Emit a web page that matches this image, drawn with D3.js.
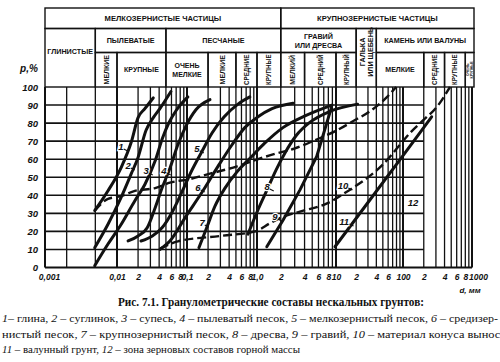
<!DOCTYPE html>
<html>
<head>
<meta charset="utf-8">
<script src="https://cdn.jsdelivr.net/npm/d3@7"></script>
<style>
  html, body { margin: 0; padding: 0; background: #fff; }
  svg { display: block; }
  .hdr text { font-family: "Liberation Sans", Arial, sans-serif; font-weight: bold; fill: #111; }
  .num { font-family: "Liberation Sans", Arial, sans-serif; font-style: italic; font-weight: bold; fill: #111; }
  .cap { font-family: "Liberation Serif", "Times New Roman", serif; fill: #111; }
</style>
</head>
<body>
<script>
// Grain-size distribution curves: particle diameter d (mm) vs cumulative content p (%)
const curve1 = [[0.0049,31.5],[0.0075,42.5],[0.0115,55.5],[0.016,69.5],[0.02,83],[0.025,88],[0.033,94]];
const curve2 = [[0.0049,11],[0.0075,24],[0.0115,39],[0.016,52],[0.02,61],[0.026,76],[0.033,83],[0.041,88],[0.059,97.5]];
const curve3 = [[0.0049,1],[0.0075,13],[0.0115,24],[0.018,37],[0.025,46],[0.035,59],[0.045,72],[0.054,79.5],[0.07,87],[0.103,94.5]];
const curve4 = [[0.0144,14.7],[0.02,17.5],[0.027,22],[0.035,33],[0.044,44],[0.057,55],[0.074,68],[0.097,78.5],[0.135,87.5],[0.213,93]];
const curve5 = [[0.022,14.7],[0.032,17.5],[0.044,22],[0.061,30.5],[0.085,42],[0.118,54],[0.162,64],[0.228,74.5],[0.34,83.5],[0.535,90.5],[0.79,94.5]];
const curve6 = [[0.041,10],[0.057,14.7],[0.097,28.5],[0.169,42.5],[0.277,56],[0.44,68],[0.67,77.5],[1.03,83.5],[1.55,88],[2.86,91]];
const curve7 = [[0.148,11],[0.191,22],[0.251,34],[0.349,44],[0.518,53],[0.794,60.5],[1.26,69],[2.13,77.5],[4.05,84],[8.9,90]];
const curve8 = [[0.743,18.5],[1.03,32],[1.34,43],[1.74,54],[2.26,63.5],[3.12,73],[4.7,80.5],[8.4,86.5],[21,90.5]];
const curve9 = [[1.33,11.5],[2.15,26.5],[3.5,43],[5.7,61.5],[8.8,89]];
const curve11 = [[9.7,11.5],[30,36],[100,62],[260,83.5]];
const dashedUpper = [[0.0049,31.5],[0.0075,38],[0.0114,39.5],[0.018,42.5],[0.035,44],[0.057,47],[0.11,49],[0.213,52],[0.518,56],[0.94,59.5],[1.69,63],[3.03,66],[5.4,70.5],[10.3,76],[17.9,81],[32,86.5],[58,94.5],[79,100]];
const dashedLower = [[0.041,10.5],[0.074,14.5],[0.3,17.5],[0.94,20],[1.46,24.5],[2.1,28],[3.5,31],[7.7,35.5],[16,43],[29,49.5],[50,57],[90,68],[126,74.5],[195,81.5],[310,89],[480,100]];

// Curve numbers and where they sit (d, p)
const curveLabels = [
  ["1",0.0114,66.8],["2",0.0144,56.2],["3",0.026,53.5],["4",0.0469,53.5],
  ["5",0.139,65.7],["6",0.1436,44],["7",0.164,24.7],["8",1.34,44.6],
  ["9",1.69,28],["10",12.7,45.2],["11",13.2,25.2],["12",139.6,35.7]
];

// Axis ticks
const decades = [0.001,0.01,0.1,1,10,100,1000];
const xTickValues = [0.001,0.01,0.02,0.04,0.06,0.08,0.1,0.2,0.4,0.6,0.8,1,2,4,6,8,10,20,40,60,100,200,400,600,800,1000];
const xTickText = ["0,001","0,01","2","4","6","8","0,1","2","4","6","8","1,0","2","4","6","8","10","2","4","6","100","2","4","6","8","1000"];
const yTickValues = [0,10,20,30,40,50,60,70,80,90,100];

// Fraction classes shown in the heading (boundaries in mm)
const headerRow1 = [
  {name:["МЕЛКОЗЕРНИСТЫЕ ЧАСТИЦЫ"], from:0.001, to:2},
  {name:["КРУПНОЗЕРНИСТЫЕ ЧАСТИЦЫ"], from:2, to:1000}
];
const headerRow2 = [
  {name:["ГЛИНИСТЫЕ"], from:0.001, to:0.005},
  {name:["ПЫЛЕВАТЫЕ"], from:0.005, to:0.05},
  {name:["ПЕСЧАНЫЕ"], from:0.05, to:2},
  {name:["ГРАВИЙ","ИЛИ ДРЕСВА"], from:2, to:20},
  {name:["ГАЛЬКА","ИЛИ ЩЕБЕНЬ"], from:20, to:40},
  {name:["КАМЕНЬ ИЛИ ВАЛУНЫ"], from:40, to:1000}
];
const headerRow3 = [
  {name:["МЕЛКИЕ"], from:0.005, to:0.01},
  {name:["КРУПНЫЕ"], from:0.01, to:0.05},
  {name:["ОЧЕНЬ","МЕЛКИЕ"], from:0.05, to:0.2},
  {name:["МЕЛКИЕ"], from:0.2, to:0.5},
  {name:["СРЕДНИЕ"], from:0.5, to:1},
  {name:["КРУПНЫЕ"], from:1, to:2},
  {name:["МЕЛКИЙ"], from:2, to:4},
  {name:["СРЕДНИЙ"], from:4, to:10},
  {name:["КРУПНЫЙ"], from:10, to:20},
  {name:["МЕЛКИЕ"], from:40, to:200},
  {name:["СРЕДНИЕ"], from:200, to:400},
  {name:["КРУПНЫЕ"], from:400, to:800},
  {name:["ОЧЕНЬ","КРУПНЫЕ"], from:800, to:1000}
];

const W = 500, H = 362;
const svg = d3.select("body").append("svg").attr("width", W).attr("height", H);

// Hand-drawn log paper: each decade has its own width
const x = d3.scaleLog().domain(decades).range([45,117,187,257,336,403,472]);
const y = d3.scaleLinear().domain([0,100]).range([267.5,87]);

const ink = "#111";

// ---- grid ----
const grid = svg.append("g");
const gridD = [0.002,0.005];
[0.01,0.1,1,10,100].forEach(k => { for (let m = 1; m <= 9; m++) gridD.push(+(k*m).toPrecision(3)); });
gridD.push(1000);
grid.selectAll("line.v").data(gridD).join("line")
  .attr("x1", d => x(d)).attr("x2", d => x(d))
  .attr("y1", y(0)).attr("y2", y(100))
  .attr("stroke", ink)
  .attr("stroke-width", d => decades.includes(d) ? 2 : 1.3);
grid.selectAll("line.h").data(yTickValues.filter(p => p > 0 && p < 100)).join("line")
  .attr("x1", x(0.001)).attr("x2", x(200))
  .attr("y1", d => y(d)).attr("y2", d => y(d))
  .attr("stroke", ink).attr("stroke-width", 1.6);
grid.append("line").attr("x1", x(0.001)).attr("x2", x(1000)).attr("y1", y(0)).attr("y2", y(0))
  .attr("stroke", ink).attr("stroke-width", 2);
grid.append("line").attr("x1", x(0.001)).attr("x2", x(0.001)).attr("y1", y(0)).attr("y2", y(100))
  .attr("stroke", ink).attr("stroke-width", 2);

// ---- heading table ----
const hdr = svg.append("g").attr("class", "hdr");
const rowY = [8, 28.5, 52.5, y(100)];
function cell(c, y0, y1, size, tall) {
  const x0 = x(c.from), x1 = Math.min(x(c.to), 474) + (c.to === 1000 ? 2 : 0);
  hdr.append("rect").attr("x", x0).attr("y", y0).attr("width", x1 - x0).attr("height", y1 - y0)
    .attr("fill", "none").attr("stroke", ink).attr("stroke-width", 1.4);
  const w = x1 - x0, h = y1 - y0;
  const cx = (x0 + x1) / 2, cy = tall ? y0 + h * 0.4 : (y0 + y1) / 2;
  const vertical = w < 35;
  const n = c.name.length;
  const fs = vertical ? Math.min(size, (w - 2) / n * 1.05) : size;
  const step = vertical ? fs * 1.02 : fs * 1.25;
  c.name.forEach((s, i) => {
    const off = i - (n - 1) / 2;
    const t = vertical
      ? hdr.append("text")
          .attr("transform", `translate(${cx + off * step},${cy}) rotate(-90)`)
          .attr("text-anchor", "middle").attr("dy", "0.36em")
      : hdr.append("text").attr("x", cx).attr("y", cy + off * step)
          .attr("text-anchor", "middle").attr("dy", "0.36em");
    t.attr("font-size", fs).text(s);
    const room = (vertical ? h : w) - 4;
    const len = t.node().getComputedTextLength();
    if (len > room) t.attr("textLength", room).attr("lengthAdjust", "spacingAndGlyphs");
  });
}
headerRow1.forEach(c => cell(c, rowY[0], rowY[1], 7.6, false));
headerRow2.forEach(c => {
  const split = headerRow3.some(s => s.from >= c.from && s.to <= c.to);
  cell(c, rowY[1], split ? rowY[2] : rowY[3], 7.2, !split);
});
headerRow3.forEach(c => cell(c, rowY[2], rowY[3], 7, false));

// ---- axes ----
const xAxis = d3.axisBottom(x).tickValues(xTickValues)
  .tickFormat((d, i) => xTickText[i]).tickSize(0).tickPadding(6);
const gx = svg.append("g").attr("transform", `translate(0,${y(0)})`).call(xAxis);
gx.select(".domain").remove();
gx.selectAll("text").attr("class", "num").attr("font-size", 8.5).attr("fill", ink)
  .attr("dx", d => d === 1000 ? 6 : d === 0.001 ? 4 : 0);

const yAxis = d3.axisLeft(y).tickValues(yTickValues).tickSize(0).tickPadding(7);
const gy = svg.append("g").attr("transform", `translate(${x(0.001)},0)`).call(yAxis);
gy.select(".domain").remove();
gy.selectAll("text").attr("class", "num").attr("font-size", 9.5).attr("fill", ink);

svg.append("text").attr("class", "num").attr("x", 29).attr("y", 72)
  .attr("text-anchor", "middle").attr("font-size", 10).text("р,%");
svg.append("text").attr("class", "num").attr("x", 470).attr("y", 293)
  .attr("text-anchor", "middle").attr("font-size", 8).text("d, мм");

// ---- curves ----
const smooth = d3.line().x(d => x(d[0])).y(d => y(d[1])).curve(d3.curveMonotoneX);
const straight = d3.line().x(d => x(d[0])).y(d => y(d[1]));
const plot = svg.append("g").attr("fill", "none").attr("stroke", ink).attr("stroke-linecap", "round");
[curve1, curve2, curve3, curve4, curve5, curve6, curve7, curve8].forEach(c =>
  plot.append("path").attr("d", smooth(c)).attr("stroke-width", 3));
[curve9, curve11].forEach(c =>
  plot.append("path").attr("d", straight(c)).attr("stroke-width", 3));
[dashedUpper, dashedLower].forEach(c =>
  plot.append("path").attr("d", smooth(c)).attr("stroke-width", 2.4)
    .attr("stroke-linecap", "butt").attr("stroke-dasharray", "9,4"));

// ---- curve numbers ----
const lab = svg.append("g");
curveLabels.forEach(([t, d, p]) => {
  const lx = x(d), ly = y(p);
  lab.append("text").attr("class", "num").attr("x", lx).attr("y", ly)
    .attr("text-anchor", "middle").attr("dy", "0.35em").attr("font-size", 9.5)
    .attr("stroke", "#fff").attr("stroke-width", 2.5).attr("paint-order", "stroke").text(t);
  if (t !== "12") {
    const hw = t.length * 2.7;
    lab.append("line").attr("x1", lx + hw).attr("y1", ly + 2).attr("x2", lx + hw + 4).attr("y2", ly + 4)
      .attr("stroke", ink).attr("stroke-width", 1.2);
  }
});

// ---- caption ----
const cap = svg.append("g").attr("class", "cap");
cap.append("text").attr("x", 271).attr("y", 306).attr("text-anchor", "middle")
  .attr("font-size", 11.5).attr("font-weight", "bold")
  .attr("textLength", 306).attr("lengthAdjust", "spacingAndGlyphs")
  .text("Рис. 7.1. Гранулометрические составы нескальных грунтов:");
function capLine(yb, parts, len) {
  const t = cap.append("text").attr("x", 2).attr("y", yb).attr("font-size", 10.5);
  if (len) t.attr("textLength", len).attr("lengthAdjust", "spacingAndGlyphs");
  parts.forEach(([s, it]) => t.append("tspan").attr("font-style", it ? "italic" : "normal").text(s));
}
capLine(322, [["1",1],["– глина, ",0],["2",1],[" – суглинок, ",0],["3",1],[" – супесь, ",0],["4",1],[" – пылеватый песок, ",0],["5",1],[" – мелкозернистый песок, ",0],["6",1],[" – средизер-",0]], 496);
capLine(338, [["нистый песок, ",0],["7",1],[" – крупнозернистый песок, ",0],["8",1],[" – дресва, ",0],["9",1],[" – гравий, ",0],["10",1],[" – материал конуса выноса",0]], 504);
capLine(353, [["11",1],[" – валунный грунт, ",0],["12",1],[" – зона зерновых составов горной массы",0]], 298);
</script>
</body>
</html>
